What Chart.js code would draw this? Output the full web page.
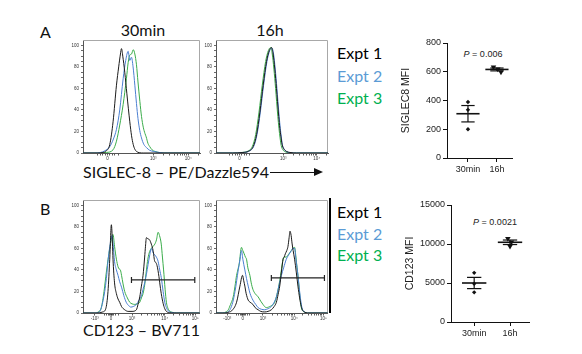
<!DOCTYPE html>
<html><head><meta charset="utf-8">
<script src="https://cdn.jsdelivr.net/npm/chart.js@4.4.1/dist/chart.umd.min.js"></script>
<style>
body{margin:0;background:#fff;width:582px;height:354px;overflow:hidden;position:relative;font-family:Lato,'Open Sans',sans-serif}
canvas{position:absolute}
.t{position:absolute;white-space:nowrap;line-height:1;font-size:16px;color:#111}
.p{position:absolute;white-space:nowrap;line-height:1;font-size:9px;font-family:'Liberation Sans',Arial,sans-serif;color:#222;transform:translateX(-50%)}
</style></head><body>
<div class="t" style="left:40px;top:24px">A</div>
<div class="t" style="left:40px;top:201px">B</div>
<div class="t" style="left:143px;top:22px;transform:translateX(-50%)">30min</div>
<div class="t" style="left:270px;top:22px;transform:translateX(-50%)">16h</div>
<div class="t" style="left:83px;top:164px">SIGLEC-8 – PE/Dazzle594</div>
<div style="position:absolute;left:270px;top:172px;width:44px;height:1px;background:#111"></div>
<div style="position:absolute;left:314px;top:168px;width:0;height:0;border-top:4.5px solid transparent;border-bottom:4.5px solid transparent;border-left:9px solid #111"></div>
<div class="t" style="left:83px;top:322px">CD123 – BV711</div>
<div style="position:absolute;left:329px;top:198px;width:2px;height:115px;background:#000"></div>
<div id="legA"></div><div id="legB"></div>
<div class="p" style="left:483px;top:50px"><i>P</i> = 0.006</div>
<div class="p" style="left:495px;top:218px"><i>P</i> = 0.0021</div>

<canvas id="hA1" width="145" height="140" style="left:60px;top:30px"></canvas>
<canvas id="hA2" width="140" height="140" style="left:193px;top:30px"></canvas>
<canvas id="hB1" width="145" height="140" style="left:60px;top:190px"></canvas>
<canvas id="hB2" width="140" height="140" style="left:193px;top:190px"></canvas>
<canvas id="dA" width="120" height="160" style="left:400px;top:30px"></canvas>
<canvas id="dB" width="129" height="162" style="left:404px;top:192px"></canvas>

<script>
// ---------- series names / colours ----------
const seriesNames = ['Expt 1','Expt 2','Expt 3'];
const seriesColors = ['#1b1b1b','#4b7fd1','#3aac4a'];
const legendColors = ['#000000','#5b9bd5','#00b050'];

// ---------- histograms: [axis position, % of max] ----------
// SIGLEC-8, 30 min
const sig30_e1 = [[0,0],[12,0],[17,0.5],[20,2],[22.9,8],[25.7,29],[28.6,63],[30.5,80],[32,92],[32.9,97],[34,90],[35.7,75],[37.5,55],[40,29],[41.5,16],[42.9,8],[44.3,3.5],[45.7,1.5],[48,0.3],[52,0],[100,0]];
const sig30_e2 = [[0,0],[10,0],[15,0.5],[18.6,2],[22.9,6],[26,13],[28.6,22],[31.4,40],[34.3,69],[36.5,86],[38.6,94.5],[40,86],[41.4,89],[42.8,80],[44.3,63],[45.7,46],[47,32],[48.5,21],[50,14],[52,8],[54.3,5],[57,2.5],[60,1.5],[65,0.5],[70,0],[100,0]];
const sig30_e3 = [[0,0],[12,0],[20,0.5],[25.7,3],[28.6,11],[31.4,26],[34.3,45],[37.1,69],[38.6,84],[40,91],[41.5,92],[42.9,96],[44.3,92],[45.7,82],[47,66],[48.6,48],[50,34],[51.5,24],[53,18],[54,15],[55.5,9],[57,6],[59,3],[61.4,1.5],[66,0.3],[72,0],[100,0]];
// SIGLEC-8, 16 h
const sig16_e1 = [[0,0],[15,0],[24,0.5],[28.8,1.5],[33.2,6],[36.2,17],[39.2,38],[42.1,63],[45.1,85],[47.5,95],[49.6,98],[51,92],[52.5,78],[54,60],[54.9,48],[56,34],[57,23],[58,15],[59,8],[60.5,4],[62.9,1.5],[66,0.5],[72,0],[100,0]];
const sig16_e2 = [[0,0],[15,0],[24,0.5],[29,1.5],[33.6,6],[36.6,17],[39.6,38],[42.5,63],[45.5,85],[47.9,95],[50,97.5],[51.4,92],[52.9,78],[54.4,60],[55.3,48],[56.4,34],[57.4,23],[58.4,14],[59.4,7],[60.8,3.5],[63,1.2],[66,0.4],[72,0],[100,0]];
const sig16_e3 = [[0,0],[15,0],[23,0.5],[28,1.5],[32.4,6],[35.4,17],[38.4,38],[41.3,63],[44.3,85],[46.7,95],[48.8,98],[50.2,92],[51.7,78],[53.2,60],[54.1,48],[55.2,34],[56.2,23],[57.2,14],[58.2,7],[59.7,3],[62,1],[65,0.3],[70,0],[100,0]];
// CD123, 30 min
const cd30_e1 = [[0,0],[12,0],[17,1],[19.5,4],[21.4,20],[22.9,50],[24.3,82],[25.2,65],[25.7,50],[27,28],[28.6,18],[30,13],[31.4,10],[33,6],[35.7,3],[38.6,1.5],[42,1.5],[45.7,3],[47.1,8],[48.6,15],[50,25],[51.4,35],[52.8,52],[53.5,62],[54.3,70],[55.5,69],[57,68],[58.5,64],[60,58],[61.4,48],[62.3,47],[63.4,44],[65,34],[65.7,28],[67,18],[68.6,9],[70,4],[71.4,1.5],[74,0.3],[78,0],[100,0]];
const cd30_e2 = [[0,0],[10,0],[14,1],[15.7,5],[18.6,20],[20,32],[21.4,48],[23,62],[24.9,72],[25.7,65],[27,48],[28.6,40],[30,35],[31.4,29],[33,24],[35,16],[37,10],[39,7],[41,5.5],[43,6],[45.7,8],[48,12],[50,16],[51.4,22],[52.8,28],[54.3,36],[55.7,45],[57,53],[58.6,60],[60,56],[61.4,54],[62.8,52],[64.3,48],[65.7,40],[67,33],[68.6,20],[70,10],[71.4,5],[73,2],[76,0.5],[80,0],[100,0]];
const cd30_e3 = [[0,0],[10,0],[13,1],[15.7,5],[18,20],[20,38],[22.9,60],[25.7,73],[27,62],[28.6,50],[30,43],[30.9,41],[32,40],[33,35],[34.3,27],[35.7,20],[38,14],[40,10],[42,8.5],[44.3,8],[46.5,8.5],[48.6,10],[50,14],[51.4,18],[52.8,26],[54.3,40],[55.5,50],[57,57],[58.5,60],[60,62],[61.5,64],[62.9,68],[64.3,75],[65.5,72],[67,64],[68,52],[69,40],[70.3,22],[71.4,10],[72.5,5],[74,2],[77,0.5],[80,0],[100,0]];
// CD123, 16 h
const cd16_e1 = [[0,0],[8,0],[12,1],[14,2],[18.4,10],[21.4,25],[23.7,35],[24.8,30],[25.8,25],[27,18],[28.8,12],[30.5,10],[33,8],[35,5],[37.7,3],[40,1.5],[43.6,1],[46.5,1.5],[49.5,3],[52,6],[54,10],[55.5,17],[57,25],[58.5,38],[60,50],[61,52],[62,55],[63.3,58],[64.4,62],[65.4,70],[66.2,76],[67.2,72],[68,65],[69,58],[70.3,50],[71.8,38],[73.3,25],[74.8,14],[76.3,6],[77.5,2.5],[79,1],[82,0],[100,0]];
const cd16_e2 = [[0,0],[8,0],[10.5,1],[12.5,3],[15,10],[17,20],[18.5,30],[19.9,40],[21.5,50],[22.8,58],[24,50],[25.8,40],[27.3,32],[28.8,25],[30.5,18],[33,12],[35.5,8],[37.7,5],[40.5,3.5],[43.6,3],[46.5,4],[49.5,6],[52,10],[54,15],[56,24],[58.5,35],[60.5,42],[62.9,50],[65,54],[67.4,58],[68.8,60],[70.3,60],[71.5,50],[72.5,42],[73.3,35],[74.8,20],[76.3,8],[77.5,3],[79,1],[82,0],[100,0]];
const cd16_e3 = [[0,0],[6,0],[9,1],[11,3],[13,8],[15.4,15],[17,25],[18.4,35],[19.5,40],[20.8,46],[22.8,61],[24,58],[25.2,55],[26.3,52],[27.3,50],[28.5,42],[30.3,35],[31.5,28],[33,22],[35,18],[37.7,15],[40,11],[42,8],[43.5,6],[45,5],[47,5.5],[48,6],[50,7],[52.5,10],[54.5,17],[57,30],[58.5,40],[60,50],[61.5,52],[62.9,52],[64.5,54],[66,56],[67.4,58],[68.8,60],[70.3,61],[71.5,52],[72.5,42],[73.3,35],[74.8,18],[76.3,5],[77.5,2],[79,1],[82,0],[100,0]];

// gates [from, to, height]
const gateCd30 = [41.5, 95.7, 30.7];
const gateCd16 = [49.5, 97, 32.6];

// histogram axes
const histYMajor = [0,20,40,60,80,100];
const histYLabels = ['0','20','40','60','80','100'];
const histYMinor = [5,10,15,25,30,35,45,50,55,65,70,75,85,90,95];
const axisA_major = [21,60,90];
const axisA_labels = ['0','10³','10⁴'];
const axisA_minor = [12,15,17,19,23,25,27,30,69,74.3,78,81,83.3,85.4,87.1,88.6,99];
const axisB_major = [10,24,42,70,96];
const axisB_labels = ['-10³','0','10³','10⁴','10⁵'];
const axisB_minor = [18,20,21.5,22.5,23.3,24.7,25.5,26.5,28,30,50.4,55.4,58.9,61.6,63.8,65.7,67.3,68.7,77.8,82.4,85.7,88.2,90.2,92,93.5,94.8];

// ---------- MFI dot plots ----------
const dotCategories = ['30min','16h'];
const sig8_30 = [390, 335, 200];
const sig8_16 = [632, 618, 598];
const sig8_16_jitter = [-0.12, 0.03, 0.14];
const sig8_mean = [308, 616];
const sig8_sem = [57, 10];
const cd123_30 = [6300, 4900, 3800];
const cd123_16 = [10700, 10250, 9700];
const cd123_16_jitter = [-0.06, 0.04, 0.0];
const cd123_mean = [5000, 10220];
const cd123_sem = [720, 290];

// ---------- legends ----------
[['legA',[45,68,90]],['legB',[204,226,247]]].forEach(([id,tops])=>{
  const el=document.getElementById(id);
  seriesNames.forEach((n,i)=>{
    const d=document.createElement('div'); d.className='t';
    d.style.left='337px'; d.style.top=tops[i]+'px'; d.style.color=legendColors[i]; d.textContent=n;
    el.appendChild(d);
  });
});

const frame = {id:'frame', beforeDatasetsDraw(c){const a=c.chartArea,g=c.ctx;g.save();g.strokeStyle='#a8a8a8';g.lineWidth=1;g.beginPath();g.moveTo(a.left,Math.round(a.top)+0.5);g.lineTo(Math.round(a.right)-0.5,Math.round(a.top)+0.5);g.lineTo(Math.round(a.right)-0.5,a.bottom);g.stroke();g.restore();}};

function hist(id, series, major, labels, minor, gate){
  const ds = series.map((s,i)=>({
    data: s.map(p=>({x:p[0],y:p[1]})), borderColor: seriesColors[i], borderWidth: 1,
    pointRadius:0, tension:0.4, cubicInterpolationMode:'monotone', fill:false
  }));
  if(gate){
    ds.unshift({data:[{x:gate[0],y:gate[2]},{x:gate[1],y:gate[2]}], borderColor:'#222', borderWidth:1.2,
      pointStyle:'line', rotation:90, pointRadius:3, pointBorderColor:'#222', pointBorderWidth:1.2, tension:0});
  }
  const xt = major.concat(minor).sort((a,b)=>a-b);
  const yt = histYMajor.concat(histYMinor).sort((a,b)=>a-b);
  new Chart(document.getElementById(id), {
    type:'line', data:{datasets:ds},
    options:{
      responsive:false, animation:false, events:[],
      layout:{padding:{top:10,right:5,left:0,bottom:0}},
      plugins:{legend:{display:false}, tooltip:{enabled:false}},
      scales:{
        x:{type:'linear', min:0, max:100,
          afterBuildTicks:sc=>{sc.ticks=xt.map(v=>({value:v}));}, afterFit:sc=>{sc.height=17;},
          ticks:{autoSkip:false, maxRotation:0, minRotation:0, padding:1, font:{size:4.5,family:'Liberation Sans'}, color:'#333',
            callback:(v)=>{const k=major.indexOf(v); return k>=0?labels[k]:'';}},
          grid:{drawOnChartArea:false, tickLength:2.5, tickColor:'#333', tickWidth:0.8},
          border:{color:'#555', width:1}},
        y:{type:'linear', min:0, max:105,
          afterBuildTicks:sc=>{sc.ticks=yt.map(v=>({value:v}));}, afterFit:sc=>{sc.width=23;},
          ticks:{autoSkip:false, padding:2, font:{size:4.5,family:'Liberation Sans'}, color:'#333',
            callback:(v)=>{const k=histYMajor.indexOf(v); return k>=0?histYLabels[k]:'';}},
          grid:{drawOnChartArea:false, tickLength:2, tickColor:'#444', tickWidth:0.8},
          border:{color:'#555', width:1}}
      }
    },
    plugins:[frame]
  });
}

hist('hA1',[sig30_e1,sig30_e2,sig30_e3],axisA_major,axisA_labels,axisA_minor,null);
hist('hA2',[sig16_e1,sig16_e2,sig16_e3],axisA_major,axisA_labels,axisA_minor,null);
hist('hB1',[cd30_e1,cd30_e2,cd30_e3],axisB_major,axisB_labels,axisB_minor,gateCd30);
hist('hB2',[cd16_e1,cd16_e2,cd16_e3],axisB_major,axisB_labels,axisB_minor,gateCd16);

function seg(pts,w){return {data:pts.map(p=>({x:p[0],y:p[1]})), showLine:true, borderColor:'#111', borderWidth:w, pointRadius:0, tension:0};}

function dot(id, p30, p16, jit, means, sems, yMax, yStep, xMin, xMax, title, yWidth, padTop, padRight, mh, ch){
  const ds=[];
  ds.push({data:p30.map(v=>({x:1,y:v})), showLine:false, pointStyle:'rectRot', pointRadius:2.2, backgroundColor:'#111', borderColor:'#111', borderWidth:0});
  ds.push({data:p16.map((v,i)=>({x:2+jit[i],y:v})), showLine:false, pointStyle:'triangle', rotation:180, pointRadius:3.2, backgroundColor:'#111', borderColor:'#111', borderWidth:0});
  means.forEach((m,i)=>{
    const c=i+1, s=sems[i];
    ds.push(seg([[c-mh,m],[c+mh,m]],1.6));
    ds.push(seg([[c,m-s],[c,m+s]],1.2));
    ds.push(seg([[c-ch,m+s],[c+ch,m+s]],1.2));
    ds.push(seg([[c-ch,m-s],[c+ch,m-s]],1.2));
  });
  const f={size:9,family:'Liberation Sans'};
  new Chart(document.getElementById(id),{
    type:'scatter', data:{datasets:ds},
    options:{
      responsive:false, animation:false, events:[],
      layout:{padding:{top:padTop,right:padRight,left:0,bottom:0}},
      plugins:{legend:{display:false}, tooltip:{enabled:false}},
      scales:{
        x:{type:'linear', min:xMin, max:xMax,
          afterBuildTicks:sc=>{sc.ticks=[{value:1},{value:2}];}, afterFit:sc=>{sc.height=32;},
          ticks:{autoSkip:false, maxRotation:0, padding:2, font:f, color:'#222', callback:v=>dotCategories[Math.round(v)-1]},
          grid:{drawOnChartArea:false, tickLength:4, tickColor:'#111'}, border:{color:'#111', width:1}},
        y:{type:'linear', min:0, max:yMax,
          afterFit:sc=>{sc.width=yWidth;},
          ticks:{stepSize:yStep, padding:2, font:f, color:'#222', callback:v=>String(v)},
          grid:{drawOnChartArea:false, tickLength:4, tickColor:'#111'}, border:{color:'#111', width:1},
          title:{display:true, text:title, font:{size:10.5,family:'Liberation Sans'}, color:'#222', padding:{top:0,bottom:0}}}
      }
    }
  });
}

dot('dA', sig8_30, sig8_16, sig8_16_jitter, sig8_mean, sig8_sem, 800, 200, 0.276, 2.52, 'SIGLEC8 MFI', 47, 13, 8, 0.4, 0.23);
dot('dB', cd123_30, cd123_16, cd123_16_jitter, cd123_mean, cd123_sem, 15000, 5000, 0.353, 2.53, 'CD123 MFI', 47, 13, 4, 0.34, 0.2);
</script>
</body></html>
